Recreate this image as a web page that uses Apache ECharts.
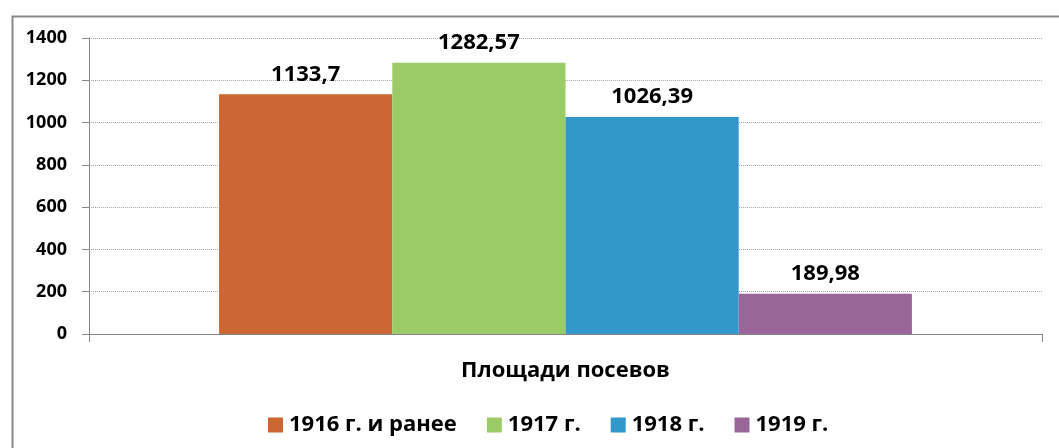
<!DOCTYPE html>
<html>
<head>
    <meta charset="utf-8">
    <title>Площади посевов</title>
    <script src="https://cdn.jsdelivr.net/npm/echarts@6/dist/echarts.min.js"></script>
    <style type="text/css">
        html, body {margin:0; padding:0; background-color:#fff; overflow:hidden;}
    </style>
</head>
<body>
<div id="container" style="width: 1059px;height:448px;"></div>

<script type="text/javascript">
    // данные
    var categories = ['Площади посевов'];
    var seriesNames = ['1916 г. и ранее', '1917 г.', '1918 г.', '1919 г.'];
    var values = [1133.7, 1282.57, 1026.39, 189.98];
    var yTicks = [0, 200, 400, 600, 800, 1000, 1200, 1400];

    var palette = ['#CC6733', '#9BCB67', '#3298CC', '#986699'];
    var fontName = 'Open Sans';

    var dom = document.getElementById("container");
    var myChart = echarts.init(dom);

    var series = [];
    for (var i = 0; i < seriesNames.length; i++) {
        series.push({
            name: seriesNames[i],
            type: 'bar',
            data: [values[i]],
            barGap: '0%',
            barCategoryGap: '27.3%',
            label: {
                show: true,
                position: 'top',
                distance: 9,
                color: '#000',
                fontFamily: fontName,
                fontWeight: 'bold',
                fontSize: 22,
                // запятая вместо точки
                formatter: function (p) { return String(p.value).replace('.', ','); }
            }
        });
    }

    var option = {
        backgroundColor: '#fff',
        color: palette,
        animation: false,
        textStyle: {fontFamily: fontName},
        graphic: [{
            type: 'rect',
            left: 10,
            top: 14,
            shape: {width: 1100, height: 500},
            style: {fill: 'none', stroke: '#878787', lineWidth: 2},
            silent: true
        }],
        grid: {
            left: 89,
            right: 17,
            top: 38,
            bottom: 114,
            containLabel: false
        },
        legend: {
            left: 263,
            top: 409,
            icon: 'rect',
            itemWidth: 15,
            itemHeight: 15,
            itemGap: 30,
            textStyle: {
                color: '#000',
                fontFamily: fontName,
                fontWeight: 'bold',
                fontSize: 22,
                padding: [0, 0, 0, 1]
            },
            data: seriesNames
        },
        xAxis: {
            type: 'category',
            data: categories,
            axisLine: {lineStyle: {color: '#868686', width: 1}},
            axisTick: {show: true, length: 8, interval: 0, lineStyle: {color: '#868686'}},
            axisLabel: {
                margin: 26,
                color: '#000',
                fontFamily: fontName,
                fontWeight: 'bold',
                fontSize: 22
            },
            splitLine: {show: false}
        },
        yAxis: {
            type: 'value',
            min: yTicks[0],
            max: yTicks[yTicks.length - 1],
            interval: yTicks[1] - yTicks[0],
            axisLine: {show: true, lineStyle: {color: '#868686', width: 1}},
            axisTick: {show: true, length: 7, lineStyle: {color: '#868686'}},
            axisLabel: {
                margin: 22,
                color: '#000',
                fontFamily: fontName,
                fontWeight: 'bold',
                fontSize: 18,
                formatter: function (v) { return String(v); }
            },
            splitLine: {
                show: true,
                lineStyle: {color: '#a8a8a8', type: [1, 1], width: 1}
            }
        },
        series: series
    };

    if (option && typeof option === "object") {
        myChart.setOption(option, true);
    }
</script>
</body>
</html>
